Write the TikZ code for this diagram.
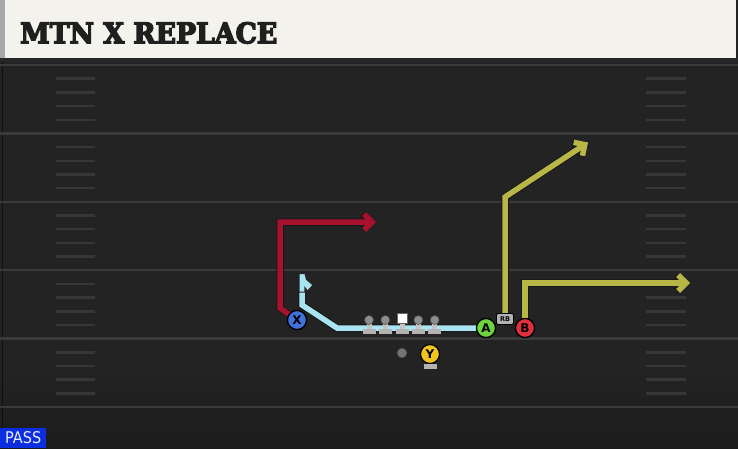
\documentclass[tikz,border=0pt]{standalone}
\usepackage{fontspec}
\usetikzlibrary{arrows.meta}
\newfontfamily\titlefont{DejaVu Serif Bold}[FakeBold=5]
\newfontfamily\labelfont{DejaVu Sans}
\definecolor{bg}{HTML}{232323}
\definecolor{bgdark}{HTML}{1C1C1C}
\definecolor{yard}{HTML}{3A3A3A}
\definecolor{hashc}{HTML}{373737}
\definecolor{cream}{HTML}{F4F2EC}
\definecolor{edgegray}{HTML}{A8A8A8}
\definecolor{routered}{HTML}{A8112E}
\definecolor{routecyan}{HTML}{A8E4F2}
\definecolor{routeyel}{HTML}{B7B647}
\definecolor{pblue}{HTML}{4171DA}
\definecolor{pgreen}{HTML}{6DD43F}
\definecolor{pred}{HTML}{E0303E}
\definecolor{pyel}{HTML}{F0C420}
\definecolor{lhead}{HTML}{8E8E8E}
\definecolor{lbody}{HTML}{C4C4C4}
\definecolor{lbase}{HTML}{B2B2B2}
\definecolor{passblue}{HTML}{0B2FE0}
\tikzset{
  yardline/.style={draw=yard, line width=2.5pt},
  hashmark/.style={draw=hashc, line width=2.5pt},
  route/.style={line width=5.5pt, line join=miter, line cap=butt,
    preaction={draw=black!90, line width=7.5pt}},
  tip/.style={-{Straight Barb[length=8pt,width=16pt]}},
  player/.style={circle, draw=black, line width=1.2pt, minimum size=19pt,
    inner sep=0pt, font=\labelfont\bfseries\fontsize{12}{12}\selectfont},
  lheadnode/.style={circle, fill=lhead, draw=black!70, line width=0.6pt,
    minimum size=9pt, inner sep=0pt},
  pics/lineman/.style={code={
    \fill[lbody] (-2.5,0) rectangle (2.5,10);
    \fill[lbase] (-6.5,8.5) rectangle (6.5,13.5);
    \node[lheadnode] (-head) at (0,0) {};
  }},
  rbtag/.style={draw=black, fill=lbase, rounded corners=2pt, line width=0.8pt,
    minimum width=17pt, minimum height=11pt, inner sep=0pt,
    font=\labelfont\bfseries\fontsize{6.5}{6.5}\selectfont},
}
\begin{document}
\begin{tikzpicture}[x=1pt,y=-1pt]
\useasboundingbox (0,0) rectangle (738,448);
% field
\fill[bg] (0,0) rectangle (738,448);
\fill[top color=bg, bottom color=bgdark] (0,370) rectangle (738,448);
\draw[draw=black!60!bg, line width=1pt] (2.5,62) -- (2.5,448);
% yard lines
\foreach \L in {65,133.4,201.8,270.2,338.6,407}
  \draw[yardline] (0,\L) -- (738,\L);
% hash marks
\foreach \L in {65,133.4,201.8,270.2,338.6}
  \foreach \k in {1,...,4}{
    \draw[hashmark] (56,{\L+13.7*\k}) -- (95,{\L+13.7*\k});
    \draw[hashmark] (646,{\L+13.7*\k}) -- (686,{\L+13.7*\k});
  }
% header
\fill[black!85] (0,57) rectangle (738,62);
\fill[cream] (0,0) rectangle (736,58);
\fill[edgegray] (0,0) rectangle (5,58);
\node[anchor=north west, inner sep=0pt, text=black!88] (title) at (20,22)
  {\resizebox{257pt}{21pt}{\titlefont MTN X REPLACE}};
% PASS label
\node[fill=passblue, anchor=south west, minimum width=46pt, minimum height=20pt,
  inner sep=0pt] (pass) at (0,448) {};
\node[inner sep=0pt, text=white!92!blue] (passtext) at (pass.center)
  {\resizebox{36pt}{12pt}{\labelfont PASS}};
% players
\node[player, fill=pblue] (X) at (297,320) {X};
\node[player, fill=pgreen] (A) at (486,328) {A};
\node[player, fill=pred] (B) at (525,328) {B};
\node[rbtag] (RB) at (505,319) {RB};
% routes
\coordinate (r1) at (280,308);
\coordinate (r2) at (280,222);
\coordinate (r3) at (376,222);
\draw[route, routered, tip] (X) -- (r1) -- (r2) -- (r3);
\coordinate (c1) at (337,328);
\coordinate (c2) at (302,305);
\coordinate (c3) at (302,280);
\draw[route, routecyan] (A) -- (c1) -- (c2) -- (c3);
\filldraw[routecyan, draw=black!85, line width=1pt]
  (299,292) -- (299,273.5) -- (305,273.5) -- (306.5,279.5) -- (313,285)
  -- (307.5,291) -- (304.8,287.5) -- (304.8,292) -- cycle;
\coordinate (y1) at (505,197);
\coordinate (y2) at (588,142.5);
\draw[route, routeyel, tip] (RB) -- (y1) -- (y2);
\coordinate (b1) at (525,283);
\coordinate (b2) at (690,283);
\draw[route, routeyel, tip] (B) -- (b1) -- (b2);
% redraw players on top
\node[player, fill=pblue] (X2) at (297,320) {X};
\node[player, fill=pgreen] (A2) at (486,328) {A};
\node[player, fill=pred] (B2) at (525,328) {B};
\node[rbtag] (RB2) at (505,319) {RB};
% offensive line
\pic (lt) at (369,320) {lineman};
\pic (lg) at (385.3,320) {lineman};
\pic (rg) at (418.3,320) {lineman};
\pic (rt) at (434.7,320) {lineman};
\fill[lbody] (399.5,320) rectangle (404.5,330);
\fill[lbase] (395.5,328.5) rectangle (408.5,333.5);
\node[fill=white, draw=black!60, line width=0.6pt, minimum size=10pt,
  inner sep=0pt] (C) at (402,318) {};
% ball and QB
\node[circle, fill=black!55, draw=black!75, line width=0.6pt, minimum size=10pt,
  inner sep=0pt] (ball) at (402,353) {};
\fill[lbase] (423.5,364) rectangle (437,369);
\fill[lbody] (428,360) rectangle (432,365);
\node[player, fill=pyel] (Y) at (430,354) {Y};
\end{tikzpicture}
\end{document}
